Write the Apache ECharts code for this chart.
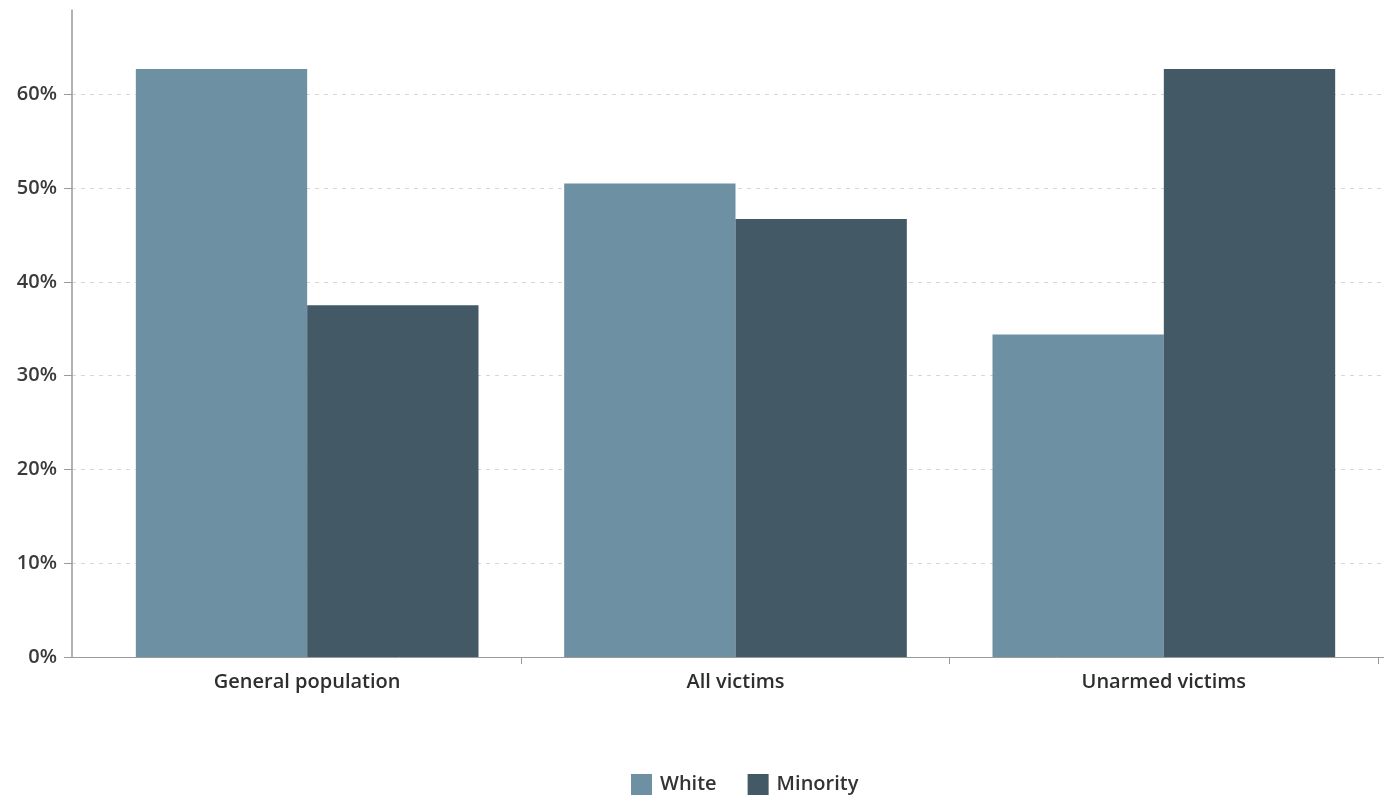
<!DOCTYPE html>
<html>
<head>
<meta charset="utf-8">
<script src="https://cdn.jsdelivr.net/npm/echarts@6/dist/echarts.min.js"></script>
<style>
  html, body { margin: 0; padding: 0; background: #ffffff; }
  #chart { width: 1384px; height: 797px; }
</style>
</head>
<body>
<div id="chart"></div>
<script>
// Share of each group: general population vs. people killed by police
const categories = ['General population', 'All victims', 'Unarmed victims'];
const whiteShare = [62.7, 50.5, 34.4];
const minorityShare = [37.5, 46.7, 62.7];
const seriesNames = ['White', 'Minority'];
const yMax = 69;
const yStep = 10;

const FONT = '"Open Sans", "Noto Sans", sans-serif';
const AXIS_GRAY = '#9a9a9a';

const chart = echarts.init(document.getElementById('chart'), null, { renderer: 'canvas' });

chart.setOption({
  animation: false,
  backgroundColor: '#ffffff',
  color: ['#6d90a3', '#435966'],
  legend: {
    data: seriesNames,
    top: 774,
    left: 631,
    padding: 0,
    itemWidth: 21,
    itemHeight: 21,
    itemGap: 31,
    icon: 'rect',
    textStyle: { fontFamily: FONT, fontSize: 20, fontWeight: 600, color: '#333', padding: [0, 0, 0, 3] }
  },
  grid: [
    // frame: y axis, dashed guides and the baseline
    { left: 72, right: 0, top: 10, bottom: 140, containLabel: false },
    // bars
    { left: 93, right: 6, top: 10, bottom: 140, containLabel: false }
  ],
  xAxis: [
    {
      gridIndex: 0, type: 'value', min: 0, max: 1,
      axisLine: { show: true, onZero: false, lineStyle: { color: AXIS_GRAY, width: 1 } },
      axisTick: { show: false }, axisLabel: { show: false }, splitLine: { show: false }
    },
    {
      gridIndex: 1, type: 'category', data: categories,
      axisLine: { show: false },
      axisTick: {
        show: true, length: 7, lineStyle: { color: AXIS_GRAY },
        interval: function (index) { return index > 0; }
      },
      axisLabel: {
        fontFamily: FONT, fontSize: 20, fontWeight: 600, color: '#2e2e2e', margin: 15
      }
    }
  ],
  yAxis: [
    {
      gridIndex: 0, type: 'value', min: 0, max: yMax, interval: yStep,
      axisLine: { show: true, lineStyle: { color: AXIS_GRAY, width: 1.5 } },
      axisTick: { show: true, length: 8, lineStyle: { color: AXIS_GRAY } },
      axisLabel: {
        fontFamily: FONT, fontSize: 20, fontWeight: 600, color: '#3a3a3a', margin: 15,
        showMaxLabel: false,
        formatter: function (v) { return v % yStep === 0 ? v + '%' : ''; }
      },
      splitLine: {
        show: true, showMinLine: false, showMaxLine: false,
        lineStyle: { color: '#d6d6d6', type: [4, 5], width: 1 }
      }
    },
    {
      gridIndex: 1, type: 'value', min: 0, max: yMax, interval: yStep, show: false,
      splitLine: { show: false }
    }
  ],
  series: [
    {
      name: seriesNames[0], type: 'bar', xAxisIndex: 1, yAxisIndex: 1,
      data: whiteShare, barGap: '0%', barCategoryGap: '20%'
    },
    {
      name: seriesNames[1], type: 'bar', xAxisIndex: 1, yAxisIndex: 1,
      data: minorityShare, barGap: '0%', barCategoryGap: '20%'
    }
  ]
});
</script>
</body>
</html>
